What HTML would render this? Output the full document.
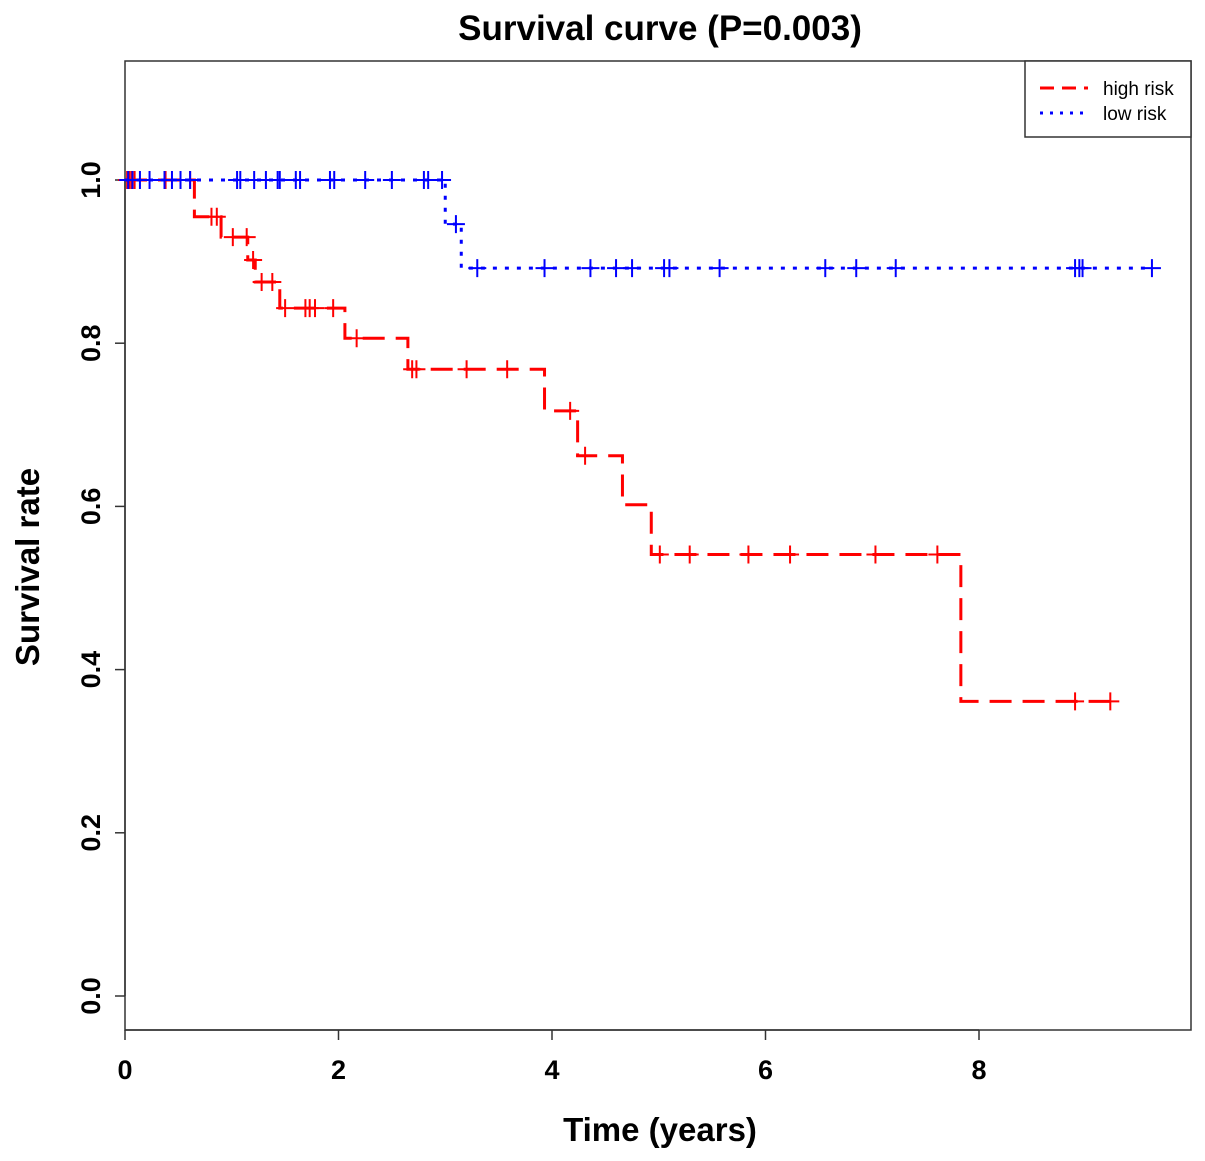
<!DOCTYPE html>
<html><head><meta charset="utf-8"><style>
body{margin:0;background:#fff}
svg{display:block;font-family:"Liberation Sans",Arial,sans-serif}
</style></head><body>
<svg id="chart" width="1205" height="1161" viewBox="0 0 1205 1161">
<text x="660" y="40" text-anchor="middle" font-size="35" font-weight="bold">Survival curve (P=0.003)</text>
<rect x="125" y="61" width="1066" height="969" fill="none" stroke="#333" stroke-width="1.5"/>
<g id="axes"></g>
<g id="series"></g>
<text x="660" y="1141" text-anchor="middle" font-size="33" font-weight="bold">Time (years)</text>
<text transform="translate(39,567) rotate(-90)" text-anchor="middle" font-size="33" font-weight="bold">Survival rate</text>
<g>
<rect x="1025" y="61" width="166" height="76" fill="#fff" stroke="#333" stroke-width="1.5"/>
<line x1="1040" y1="88" x2="1088" y2="88" stroke="#f00" stroke-width="3" stroke-dasharray="14 8"/>
<text x="1103" y="95" font-size="19">high risk</text>
<line x1="1040" y1="113" x2="1088" y2="113" stroke="#00f" stroke-width="3" stroke-dasharray="3 7"/>
<text x="1103" y="120" font-size="19">low risk</text>
</g>
</svg>
<script>
const xTicks=[0,2,4,6,8];
const yTicks=[0.0,0.2,0.4,0.6,0.8,1.0];
const highStepTimes=[0.65,0.90,1.15,1.22,1.45,2.06,2.65,3.93,4.24,4.66,4.93,7.83];
const highStepValues=[0.955,0.930,0.902,0.875,0.843,0.806,0.768,0.717,0.662,0.602,0.541,0.361];
const highEnd=9.23;
const highCensor=[0.02,0.04,0.06,0.09,0.38,0.61,0.81,0.86,1.01,1.14,1.20,1.28,1.38,1.50,1.69,1.73,1.78,1.95,2.17,2.69,2.73,3.20,3.58,4.17,4.31,5.01,5.29,5.84,6.23,7.03,7.61,8.90,9.23];
const lowStepTimes=[3.00,3.15];
const lowStepValues=[0.946,0.892];
const lowEnd=9.62;
const lowCensor=[0.03,0.07,0.14,0.23,0.37,0.44,0.52,0.61,1.05,1.08,1.21,1.32,1.43,1.45,1.60,1.64,1.92,1.96,2.25,2.50,2.80,2.84,2.97,3.10,3.30,3.93,4.36,4.60,4.75,5.05,5.10,5.57,6.56,6.85,7.22,8.90,8.94,8.97,9.62];
const NS="http://www.w3.org/2000/svg";
const X=t=>125+t*106.75;
const Y=v=>996-v*816;
function mk(tag,attrs,parent){const e=document.createElementNS(NS,tag);for(const k in attrs)e.setAttribute(k,attrs[k]);parent.appendChild(e);return e;}
const axes=document.getElementById('axes');
const series=document.getElementById('series');
let l=mk('line',{x1:X(0),x2:X(8),y1:1030,y2:1030,stroke:'#333','stroke-width':1.5},axes);


l=mk('line',{x1:125,x2:125,y1:Y(0),y2:Y(1),stroke:'#333','stroke-width':1.5},axes);


xTicks.forEach(t=>{
 const tk=mk('line',{x1:X(t),x2:X(t),y1:1030,y2:1040,stroke:'#333','stroke-width':1.5},axes);
 
 
 const tx=mk('text',{x:X(t),y:1079,'text-anchor':'middle','font-size':27,'font-weight':'bold'},axes);
 tx.textContent=t;
 
 
});
yTicks.forEach(v=>{
 const tk=mk('line',{x1:115,x2:125,y1:Y(v),y2:Y(v),stroke:'#333','stroke-width':1.5},axes);
 
 
 const tx=mk('text',{transform:`translate(100,${Y(v)}) rotate(-90)`,'text-anchor':'middle','font-size':27,'font-weight':'bold'},axes);
 tx.textContent=v.toFixed(1);
 
 
});
function valAt(times,vals,t){let v=1;for(let i=0;i<times.length;i++){if(times[i]<=t)v=vals[i];}return v;}
function drawCurve(times,vals,end,censor,color,dash,name){
 let d=`M${X(0)},${Y(1)}`;let v=1;
 times.forEach((t,i)=>{d+=` H${X(t)} V${Y(vals[i])}`;v=vals[i];});
 d+=` H${X(end)}`;
 const p=mk('path',{d:d,fill:'none',stroke:color,'stroke-width':3,'stroke-dasharray':dash},series);
 
 
 censor.forEach(t=>{
  const cx=X(t),cy=Y(valAt(times,vals,t));
  const c=mk('path',{d:`M${cx-9},${cy} H${cx+9} M${cx},${cy-9} V${cy+9}`,stroke:color,'stroke-width':2},series);
  
  
 });
}
drawCurve(highStepTimes,highStepValues,highEnd,highCensor,'#f00','22 11','high-risk');
drawCurve(lowStepTimes,lowStepValues,lowEnd,lowCensor,'#00f','4 8','low-risk');
</script>
</body></html>
